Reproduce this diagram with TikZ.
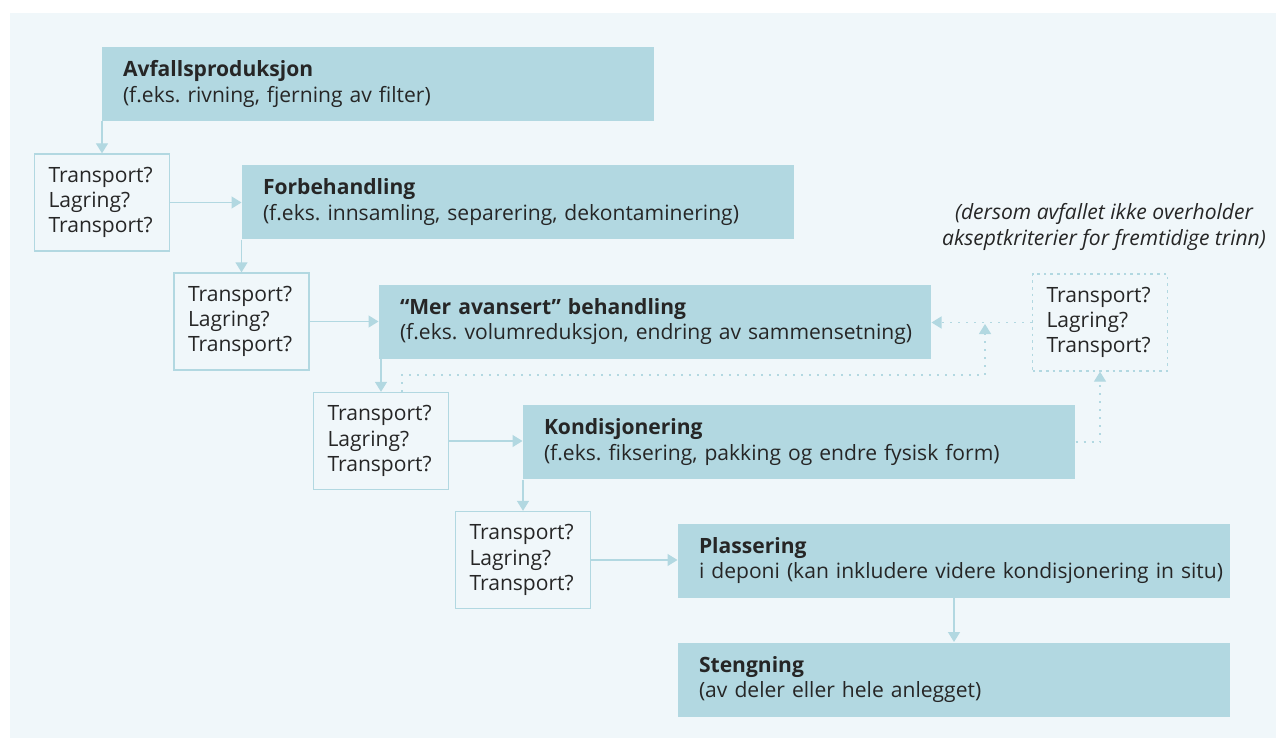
\documentclass[tikz,border=0pt]{standalone}
\usepackage{fontspec}
\setmainfont{Open Sans}
\usetikzlibrary{arrows.meta}

\definecolor{boxblue}{RGB}{178,216,225}
\definecolor{panelblue}{RGB}{240,247,250}
\definecolor{ink}{RGB}{38,38,38}

\tikzset{every picture/.style={line width=0.75pt}}
\frenchspacing
\newcommand{\stagetext}[2]{\textbf{#1}\\#2}
\newcommand{\holdtext}{Transport?\\Lagring?\\Transport?}

\begin{document}
\begin{tikzpicture}[x=0.75pt,y=0.75pt,yscale=-1,xscale=1,
  font=\fontsize{15.8}{19}\selectfont,
  stage/.style={fill=boxblue, text=ink, minimum width=414pt, minimum height=55.5pt,
    text width=414pt, inner xsep=0pt, inner ysep=0pt, align=left,
    execute at begin node={\leftskip=15.75pt}},
  waitbox/.style={draw=boxblue, line width=1pt, text=ink, minimum width=101.25pt, minimum height=72.75pt,
    text width=95.25pt, inner xsep=3pt, inner ysep=0pt, align=left,
    execute at begin node={\leftskip=7.5pt}},
  flowarrow/.style={draw=boxblue, line width=1pt, -{Triangle[width=9pt,length=7.5pt]}},
  backflow/.style={flowarrow, dash pattern=on 1.5pt off 4.5pt}
]
	%set diagram size 1276 x 738
	\useasboundingbox (0,0) rectangle (1276,738);
	%Shape: Panel
	\fill[panelblue] (10,13) rectangle (1276,738);
	
	%Main steps
	\node[stage] (avfall) at (378,84) {\stagetext{Avfallsproduksjon}{(f.eks. rivning, fjerning av filter)}};
	\node[stage] (forbeh) at (518,202) {\stagetext{Forbehandling}{(f.eks. innsamling, separering, dekontaminering)}};
	\node[stage] (avans) at (655,321.5) {\stagetext{“Mer avansert” behandling}{(f.eks. volumreduksjon, endring av sammensetning)}};
	\node[stage] (kond) at (799,442) {\stagetext{Kondisjonering}{(f.eks. fiksering, pakking og endre fysisk form)}};
	\node[stage] (plass) at (954,560.5) {\stagetext{Plassering}{i deponi (kan inkludere videre kondisjonering in situ)}};
	\node[stage] (steng) at (954,679.5) {\stagetext{Stengning}{(av deler eller hele anlegget)}};
	
	%Transport / storage boxes
	\node[waitbox] (t1) at (102,202.5) {\holdtext};
	\node[waitbox] (t2) at (241.5,321.5) {\holdtext};
	\node[waitbox] (t3) at (381,441) {\holdtext};
	\node[waitbox] (t4) at (523,560) {\holdtext};
	\node[waitbox, dash pattern=on 2pt off 3pt] (tx) at (1100,322.5) {\holdtext};
	
	% Text Node
	\node[text=ink, font=\fontsize{15.8}{20}\selectfont\itshape, align=center] (note) at (1104,227)
	  {(dersom avfallet ikke overholder\\akseptkriterier for fremtidige trinn)};
	
	%Straight Lines
	\draw[flowarrow] (avfall.south -| t1.north) -- (t1.north);
	\draw[flowarrow] (t1.east) -- (t1.east -| forbeh.west);
	\draw[flowarrow] (forbeh.south -| t2.north) -- (t2.north);
	\draw[flowarrow] (t2.east) -- (t2.east -| avans.west);
	\draw[flowarrow] (avans.south -| t3.north) -- (t3.north);
	\draw[flowarrow] (t3.east) -- (t3.east -| kond.west);
	\draw[flowarrow] (kond.south -| t4.north) -- (t4.north);
	\draw[flowarrow] (t4.east) -- (t4.east -| plass.west);
	\draw[flowarrow] (plass.south) -- (steng.north);
	
	%Dotted return lines
	\coordinate (bend) at (985,375);
	\coordinate (join) at (985,324);
	\draw[backflow] ([xshift=15.75pt]t3.north) |- (bend) -- (join);
	\draw[backflow] (kond.east) -| (tx.south);
	\draw[backflow] (tx.west) -- (tx.west -| avans.east);
	
\end{tikzpicture}
\end{document}
